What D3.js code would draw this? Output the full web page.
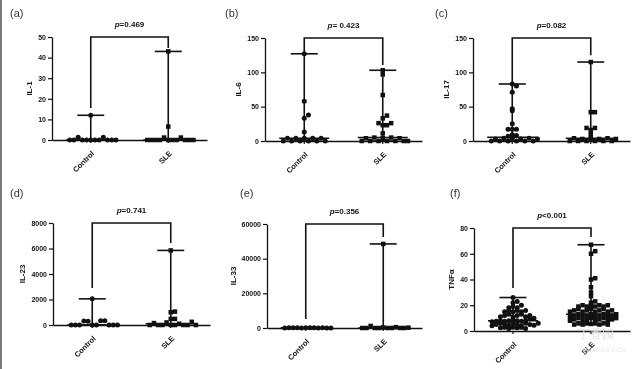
<!DOCTYPE html>
<html>
<head>
<meta charset="utf-8">
<script src="https://cdn.jsdelivr.net/npm/d3@7"></script>
<style>
  body { margin: 0; background: #fff; }
  svg { display: block; will-change: transform; }
  text { font-family: "Liberation Sans", Arial, sans-serif; }
</style>
</head>
<body>
<svg id="chart" width="640" height="369"></svg>
<script>
// ------------------------------------------------------------
// Data
// ------------------------------------------------------------
const groups = ["Control", "SLE"];

const il1Control = [0, 0, 1.3, 0, 0, 0, 0, 0, 1.3, 0, 0, 0, 12];
const il1SLE = [0, 0, 0, 0, 1.2, 0, 0, 0, 1.2, 0, 0, 0, 6.5, 43];

const il6Control = [0, 4, 0, 4, 0, 4, 0, 4, 0, 4, 0, 13, 33, 38, 58, 127];
const il6SLE = [0, 4, 0, 5, 0, 4, 0, 5, 0, 4, 0, 0, 11, 26, 23, 23, 26, 33, 37, 67, 97, 103];

const il17Control = [0, 3, 0, 4, 0, 4, 0, 3, 0, 4, 0, 3, 7, 9, 8, 17, 17, 17, 25, 44, 47, 71, 83, 80];
const il17SLE = [0, 4, 0, 3, 0, 4, 0, 3, 0, 4, 0, 3, 10, 19, 16, 19, 42, 42, 115];

const il23Control = [0, 0, 0, 320, 300, 0, 0, 330, 340, 0, 0, 0, 2050];
const il23SLE = [0, 150, 0, 0, 200, 0, 0, 100, 0, 0, 250, 0, 470, 480, 1000, 1050, 5850];

const il33Control = [50, 120, 80, 150, 60, 100, 90, 200, 70, 110, 60, 40];
const il33SLE = [0, 0, 1200, 0, 0, 300, 0, 0, 500, 0, 0, 200, 48500];

const tnfControl = [
  2.5, 3, 2, 3, 2.5, 3, 2,
  4, 5, 6, 5, 4.5, 6, 5, 4, 6, 5, 4.5, 6,
  7.2, 7.5, 8, 7.5, 8, 9, 8, 7.5, 8, 9.5, 10,
  11, 12, 13, 11, 12, 13, 11, 12,
  15, 16, 15, 16, 15, 16,
  18, 19, 18, 20,
  22, 23,
  26
];
const tnfSLE = [
  5, 6, 5, 6, 5.5, 6, 5, 6, 5,
  8, 9, 10, 8, 9, 10, 8, 9, 10, 8, 9, 10,
  11, 12, 13, 11, 12, 13, 11, 12, 13, 11, 12, 13,
  15, 16, 17, 15, 16, 17, 15, 16, 17, 15, 16,
  19, 20, 19, 20, 19, 20, 19, 20,
  22, 23,
  27, 30, 34,
  40, 41,
  60, 62,
  67
];

const panelLetters = ["(a)", "(b)", "(c)", "(d)", "(e)", "(f)"];
const yTitles = ["IL-1", "IL-6", "IL-17", "IL-23", "IL-33", "TNFα"];
const yMax = [50, 150, 150, 8000, 60000, 80];
const yTicks = [
  [0, 10, 20, 30, 40, 50],
  [0, 50, 100, 150],
  [0, 50, 100, 150],
  [0, 2000, 4000, 6000, 8000],
  [0, 20000, 40000, 60000],
  [0, 20, 40, 60, 80]
];
const pOps = ["=0.469", "= 0.423", "=0.082", "=0.741", "=0.356", "<0.001"];
// where the significance bracket legs stop (data units): [Control, SLE]
const bracketEnds = [[15.5, 44.7], [129.5, 110.6], [84.4, 125], [2900, 6430], [5200, 52500], [33.4, 73]];

const series = [
  [il1Control, il1SLE],
  [il6Control, il6SLE],
  [il17Control, il17SLE],
  [il23Control, il23SLE],
  [il33Control, il33SLE],
  [tnfControl, tnfSLE]
];

// ------------------------------------------------------------
// Layout (pixels)
// ------------------------------------------------------------
const layout = [
  { left: 52,  right: 207, y0: 140, top: 37,  lx: 10,  ly: 17 },
  { left: 265, right: 422, y0: 141, top: 38,  lx: 225, ly: 17 },
  { left: 473, right: 630, y0: 141, top: 38,  lx: 435, ly: 17 },
  { left: 53,  right: 210, y0: 325, top: 223, lx: 10,  ly: 197 },
  { left: 267, right: 422, y0: 328, top: 224, lx: 240, ly: 197 },
  { left: 474, right: 630, y0: 331, top: 228, lx: 450, ly: 197 }
];

const INK = "#111";
const TXT = "#141414";
const BIN_H = 4.5;   // px height of a scatter row
const STEP = 4.2;    // px between neighbours in a row
const R = 2.5;       // symbol radius
const CAP = 13.5;    // half width of range caps
const MED = 25;      // half width of median line

const svg = d3.select("#chart");

// left border strip of the scanned figure
svg.append("rect").attr("x", 0).attr("y", 0).attr("width", 2).attr("height", 369).attr("fill", "#7a7a7a");

// spread the points of one group into rows, GraphPad style
function swarm(values, y, cx) {
  const base = y(0);
  const rows = d3.group(values.map(v => ({ v })), d => Math.floor((base - y(d.v)) / BIN_H));
  const out = [];
  rows.forEach(members => {
    const n = members.length;
    const slots = d3.range(n).map(k => (k % 2 ? (k + 1) / 2 : -k / 2)).sort(d3.ascending);
    members.forEach((m, j) => out.push({ x: cx + slots[j] * STEP, y: y(m.v) }));
  });
  return out;
}

series.forEach((pair, i) => {
  const L = layout[i];
  const g = svg.append("g").attr("class", "panel");

  const y = d3.scaleLinear().domain([0, yMax[i]]).range([L.y0, L.top]);
  const x = d3.scaleBand().domain(groups).range([L.left, L.right]);
  const cx = k => x(k) + x.bandwidth() / 2;

  // panel letter
  g.append("text")
    .attr("x", L.lx).attr("y", L.ly)
    .attr("font-size", 11).attr("fill", "#333")
    .text(panelLetters[i]);

  // y axis
  const ya = g.append("g")
    .attr("transform", `translate(${L.left},0)`)
    .call(d3.axisLeft(y).tickValues(yTicks[i]).tickSize(4).tickSizeOuter(0).tickPadding(2).tickFormat(d3.format("d")));
  ya.select(".domain").attr("stroke", INK).attr("stroke-width", 1.3);
  ya.selectAll(".tick line").attr("stroke", INK).attr("stroke-width", 1.2);
  ya.selectAll(".tick text")
    .attr("font-size", 7).attr("font-weight", 700).attr("fill", TXT)
    .attr("font-family", "'Liberation Sans', Arial, sans-serif");

  const bb = ya.node().getBBox();
  g.append("text")
    .attr("transform", `translate(${L.left + bb.x - 6},${(L.y0 + L.top) / 2}) rotate(-90)`)
    .attr("text-anchor", "middle")
    .attr("font-size", 8).attr("font-weight", 700).attr("fill", TXT)
    .text(yTitles[i]);

  // x axis
  const xa = g.append("g")
    .attr("transform", `translate(0,${L.y0})`)
    .call(d3.axisBottom(x).tickSize(3).tickSizeOuter(0).tickFormat(""));
  xa.select(".domain").attr("stroke", INK).attr("stroke-width", 1.3);
  xa.selectAll(".tick line").attr("stroke", INK).attr("stroke-width", 1.2);

  groups.forEach(k => {
    g.append("text")
      .attr("transform", `translate(${cx(k) + 4},${L.y0 + 14}) rotate(-45)`)
      .attr("text-anchor", "end")
      .attr("font-size", 7.5).attr("font-weight", 700).attr("fill", TXT)
      .text(k);
  });

  // points
  pair.forEach((vals, gi) => {
    const pts = swarm(vals, y, cx(groups[gi]));
    if (gi === 0) {
      g.append("g").selectAll("circle").data(pts).join("circle")
        .attr("cx", d => d.x).attr("cy", d => d.y).attr("r", R).attr("fill", INK);
    } else {
      g.append("g").selectAll("rect").data(pts).join("rect")
        .attr("x", d => d.x - R * 0.9).attr("y", d => d.y - R * 0.9)
        .attr("width", 1.8 * R).attr("height", 1.8 * R).attr("fill", INK);
    }
  });

  // median with range
  pair.forEach((vals, gi) => {
    const c = cx(groups[gi]);
    const lo = d3.min(vals), hi = d3.max(vals), md = d3.median(vals);
    const lg = g.append("g").attr("stroke", INK).attr("stroke-width", 1.6);
    lg.append("line").attr("x1", c).attr("x2", c).attr("y1", y(lo)).attr("y2", y(hi));
    lg.append("line").attr("x1", c - CAP).attr("x2", c + CAP).attr("y1", y(hi)).attr("y2", y(hi));
    lg.append("line").attr("x1", c - CAP).attr("x2", c + CAP).attr("y1", y(lo)).attr("y2", y(lo));
    lg.append("line").attr("x1", c - MED).attr("x2", c + MED).attr("y1", y(md)).attr("y2", y(md));
  });

  // significance bracket
  const c0 = cx(groups[0]), c1 = cx(groups[1]);
  const yt = y(yMax[i]);
  g.append("path")
    .attr("d", `M${c0},${y(bracketEnds[i][0])}V${yt}H${c1}V${y(bracketEnds[i][1])}`)
    .attr("fill", "none").attr("stroke", INK).attr("stroke-width", 1.6);

  const pt = g.append("text")
    .attr("x", (c0 + c1) / 2).attr("y", yt - 10)
    .attr("text-anchor", "middle")
    .attr("font-size", 8).attr("font-weight", 700).attr("fill", TXT);
  pt.append("tspan").attr("font-style", "italic").text("p");
  pt.append("tspan").text(pOps[i]);
});

// faint site watermark
const wm = svg.append("g").attr("fill", "#e2e2e2");
wm.append("text").attr("x", 578).attr("y", 338)
  .attr("font-size", 12).attr("font-family", "'Noto Sans CJK SC', sans-serif").text("丁香园");
wm.append("text").attr("x", 580).attr("y", 352)
  .attr("font-size", 6).attr("letter-spacing", 0.6).text("WWW.DXY.CN");
</script>
</body>
</html>
